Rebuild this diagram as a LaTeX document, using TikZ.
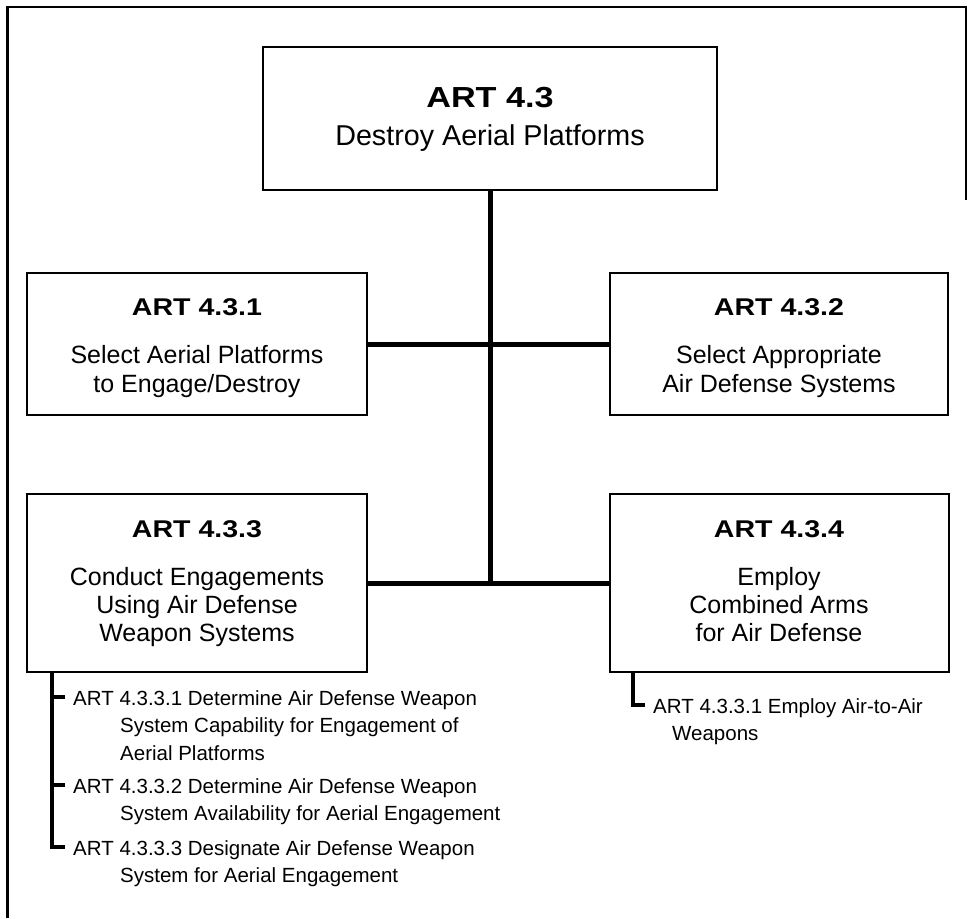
\documentclass[tikz,border=0pt]{standalone}
\usepackage{fontspec}
\setmainfont{Liberation Sans}
\newfontfamily\artbf{Liberation Sans}[FakeStretch=1.18]
\begin{document}
\begin{tikzpicture}[x=1pt,y=-1pt,
  frame/.style={line width=2.5pt},
  box/.style={draw, line width=2pt, inner sep=0pt, minimum width=#1},
  conn/.style={line width=5pt},
  brk/.style={line width=3.5pt},
  ttl/.style={anchor=base, inner sep=0pt, font=\artbf\bfseries\fontsize{24.2}{28}\selectfont},
  lbl/.style={anchor=base, inner sep=0pt, font=\fontsize{25}{28}\selectfont},
  sub/.style={anchor=base west, inner sep=0pt, font=\fontsize{20.5}{27.5}\selectfont}]
\useasboundingbox (0,0) rectangle (971,918);
% outer frame
\coordinate (fbl) at (7.5,918);
\coordinate (ftl) at (7.5,7);
\coordinate (ftr) at (966,7);
\coordinate (fbr) at (966,200);
\draw[frame] (fbl) -- (ftl) -- (ftr) -- (fbr);
% boxes
\node[box=454, minimum height=143] (top) at (490,118.5) {};
\node[box=340, minimum height=142] (b1) at (197,344) {};
\node[box=338, minimum height=142] (b2) at (779,344) {};
\node[box=340, minimum height=178] (b3) at (197,583) {};
\node[box=339, minimum height=178] (b4) at (779.5,583) {};
% connectors
\coordinate (junc) at (top.south |- b3.east);
\draw[conn] (top.south) -- (junc);
\draw[conn] (b1.east) -- (b2.west);
\draw[conn] (b3.east) -- (b4.west);
% texts top
\node[ttl, font=\artbf\bfseries\fontsize{29}{32}\selectfont] (t0) at (490,107) {ART 4.3};
\node[lbl, font=\fontsize{28.7}{32}\selectfont] (t0a) at (490,145) {Destroy Aerial Platforms};
% box 1
\node[ttl] (t1) at (197,315) {ART 4.3.1};
\node[lbl] (t1a) at (197,363) {Select Aerial Platforms};
\node[lbl] (t1b) at (197,392) {to Engage/Destroy};
% box 2
\node[ttl] (t2) at (779,315) {ART 4.3.2};
\node[lbl] (t2a) at (779,363) {Select Appropriate};
\node[lbl] (t2b) at (779,392) {Air Defense Systems};
% box 3
\node[ttl] (t3) at (197,537) {ART 4.3.3};
\node[lbl] (t3a) at (197,585) {Conduct Engagements};
\node[lbl] (t3b) at (197,613) {Using Air Defense};
\node[lbl] (t3c) at (197,641) {Weapon Systems};
% box 4
\node[ttl] (t4) at (779,537) {ART 4.3.4};
\node[lbl] (t4a) at (779,585) {Employ};
\node[lbl] (t4b) at (779,613) {Combined Arms};
\node[lbl] (t4c) at (779,641) {for Air Defense};
% left sub items
\node[sub] (s1) at (73,705) {ART 4.3.3.1 Determine Air Defense Weapon};
\node[sub] (s1a) at (120,732.5) {System Capability for Engagement of};
\node[sub] (s1b) at (120,760) {Aerial Platforms};
\node[sub] (s2) at (73,793) {ART 4.3.3.2 Determine Air Defense Weapon};
\node[sub] (s2a) at (120,820.5) {System Availability for Aerial Engagement};
\node[sub] (s3) at (73,855) {ART 4.3.3.3 Designate Air Defense Weapon};
\node[sub] (s3a) at (120,882.5) {System for Aerial Engagement};
\coordinate (lb0) at (52,0 |- b3.south);
\coordinate (lk1) at (52,697);
\coordinate (lk2) at (52,785);
\coordinate (lk3) at (52,847);
\draw[brk] (lb0) -- (lk3) -- ([xshift=-8pt]s3.base west |- lk3);
\draw[brk] (lk1) -- ([xshift=-8pt]s1.base west |- lk1);
\draw[brk] (lk2) -- ([xshift=-8pt]s2.base west |- lk2);
% right sub item
\node[sub] (r1) at (653,713) {ART 4.3.3.1 Employ Air-to-Air};
\node[sub] (r1a) at (672,740.5) {Weapons};
\coordinate (rb0) at (633,0 |- b4.south);
\coordinate (rk1) at (633,705);
\draw[brk] (rb0) -- (rk1) -- ([xshift=-8pt]r1.base west |- rk1);
\end{tikzpicture}
\end{document}
